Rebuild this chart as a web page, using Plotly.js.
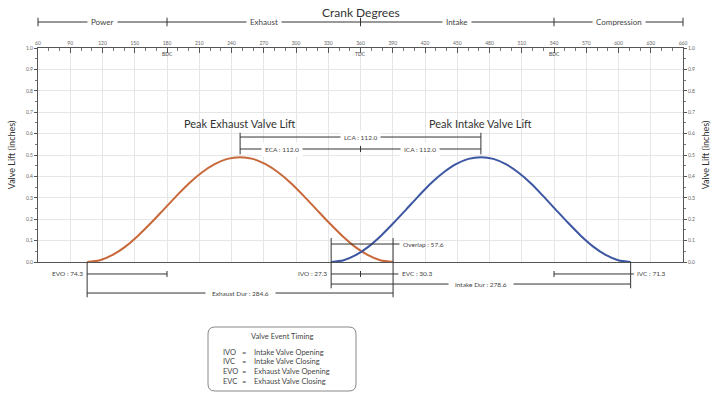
<!DOCTYPE html>
<html>
<head>
<meta charset="utf-8">
<script src="https://cdn.plot.ly/plotly-3.0.1.min.js"></script>
<style>html,body{margin:0;padding:0;background:#fff;}#chart{width:716px;height:394px;}</style>
</head>
<body>
<div id="chart"></div>
<script>
// ---- data ----
const exhaustDeg  = [105.7, 117.6, 129.4, 141.3, 153.1, 165.0, 176.9, 188.7, 200.6, 212.4, 224.3, 236.1, 248.0,
                     259.9, 271.7, 283.6, 295.4, 307.3, 319.1, 331.0, 342.9, 354.7, 366.6, 378.4, 390.3];
const exhaustLift = [0, 0.008, 0.033, 0.072, 0.123, 0.182, 0.245, 0.308, 0.368, 0.418, 0.457, 0.482, 0.49,
                     0.482, 0.457, 0.418, 0.368, 0.308, 0.245, 0.182, 0.123, 0.072, 0.033, 0.008, 0];
const intakeDeg   = [332.7, 344.3, 355.9, 367.5, 379.1, 390.7, 402.4, 414.0, 425.6, 437.2, 448.8, 460.4, 472.0,
                     483.6, 495.2, 506.8, 518.4, 530.0, 541.6, 553.3, 564.9, 576.5, 588.1, 599.7, 611.3];
const intakeLift  = [0, 0.008, 0.033, 0.072, 0.123, 0.182, 0.245, 0.308, 0.368, 0.418, 0.457, 0.482, 0.49,
                     0.482, 0.457, 0.418, 0.368, 0.308, 0.245, 0.182, 0.123, 0.072, 0.033, 0.008, 0];

const phaseNames  = ["Power", "Exhaust", "Intake", "Compression"];
const phaseBounds = [60, 180, 360, 540, 660];
const deadCenters = [180, 360, 540];
const deadLabels  = ["BDC", "TDC", "BDC"];

const EVO = 74.3, EVC = 30.3, IVO = 27.3, IVC = 71.3;
const LCA = 112.0, ECA = 112.0, ICA = 112.0;
const OVERLAP = 57.6, EXH_DUR = 284.6, INT_DUR = 278.6;

const legendAbbr = ["IVO", "IVC", "EVO", "EVC"];
const legendDesc = ["Intake Valve Opening", "Intake Valve Closing", "Exhaust Valve Opening", "Exhaust Valve Closing"];

// ---- derived event angles ----
const TDC = 360, BDC1 = 180, BDC2 = 540;
const evoDeg = BDC1 - EVO, evcDeg = TDC + EVC, ivoDeg = TDC - IVO, ivcDeg = BDC2 + IVC;
const exPeak = TDC - ECA, inPeak = TDC + ICA;

const FONT = "Lato, 'Open Sans', sans-serif";
const TXT = "#444";
const LINE = "#333";

const shapes = [];
const annotations = [];
function hline(x0, x1, y, ref) {
  shapes.push({type: "line", xref: ref[0], yref: ref[1], x0: x0, x1: x1, y0: y, y1: y, line: {color: LINE, width: 1}});
}
function vline(x, y0, y1, ref) {
  shapes.push({type: "line", xref: ref[0], yref: ref[1], x0: x, x1: x, y0: y0, y1: y1, line: {color: LINE, width: 1}});
}
function label(x, y, text, size, opts, ref) {
  annotations.push(Object.assign({xref: ref[0], yref: ref[1], x: x, y: y, text: text, showarrow: false,
    xanchor: "center", yanchor: "middle",
    font: {family: FONT, size: size, color: TXT}, bgcolor: "rgba(255,255,255,1)", borderpad: 1}, opts || {}));
}
const R2 = ["x2", "y2"];
const R1 = ["x", "y"];
const TK = 0.014; // half tick height in lift units

// phase bar on top
const yPhase = 1.1215;
hline(phaseBounds[0], phaseBounds[phaseBounds.length - 1], yPhase, R2);
phaseBounds.forEach(b => vline(b, yPhase - 0.02, yPhase + 0.02, R2));
phaseNames.forEach((n, i) => label((phaseBounds[i] + phaseBounds[i + 1]) / 2, yPhase, n, 8, {borderpad: 3}, R2));
label(TDC, 1.165, "Crank Degrees", 12, {font: {family: FONT, size: 12, color: "#333"}, bgcolor: "rgba(0,0,0,0)"}, R2);

// dead centre labels
deadCenters.forEach((d, i) => label(d, 0.972, deadLabels[i], 5, {bgcolor: "rgba(0,0,0,0)"}, R1));

// peak titles
label(exPeak, 0.648, "Peak Exhaust Valve Lift", 11, {bgcolor: "rgba(0,0,0,0)", font: {family: FONT, size: 11, color: "#333"}}, R1);
label(inPeak, 0.648, "Peak Intake Valve Lift", 11, {bgcolor: "rgba(0,0,0,0)", font: {family: FONT, size: 11, color: "#333"}}, R1);

// LCA / ECA / ICA
const yLCA = 0.584, yECA = 0.528;
hline(exPeak, inPeak, yLCA, R1);
vline(exPeak, yECA - 0.025, yLCA + 0.02, R1);
vline(inPeak, yECA - 0.025, yLCA + 0.02, R1);
label((exPeak + inPeak) / 2, yLCA, "LCA : " + LCA.toFixed(1), 6.5, {borderpad: 3}, R1);
hline(exPeak, inPeak, yECA, R1);
vline(TDC, yECA - TK, yECA + TK, R1);
label(exPeak + 39, yECA, "ECA : " + ECA.toFixed(1), 6.5, {borderpad: 3}, R1);
label(TDC + 55, yECA, "ICA : " + ICA.toFixed(1), 6.5, {borderpad: 3}, R1);

// overlap
const yOv = 0.084;
hline(ivoDeg, evcDeg, yOv, R1);
hline(evcDeg, evcDeg + 6, yOv, R1);
label(evcDeg + 7, yOv, "Overlap : " + OVERLAP.toFixed(1), 6.5, {xanchor: "left", bgcolor: "rgba(0,0,0,0)"}, R1);

// bottom dimension rows
const yR1 = -0.056, yR2 = -0.103, yR3 = -0.145;
vline(ivoDeg, 0.112, yR2 - 0.02, R2);
vline(evcDeg, 0.112, yR3 - 0.02, R2);
vline(evoDeg, 0, yR3 - 0.02, R2);
vline(ivcDeg, 0, yR2 - 0.02, R2);

hline(evoDeg, BDC1, yR1, R2);
vline(BDC1, yR1 - TK, yR1 + TK, R2);
label(evoDeg - 2, yR1, "EVO : " + EVO.toFixed(1), 6.5, {xanchor: "right", bgcolor: "rgba(0,0,0,0)"}, R2);

hline(ivoDeg, evcDeg, yR1, R2);
vline(TDC, yR1 - TK, yR1 + TK, R2);
label(ivoDeg - 2, yR1, "IVO : " + IVO.toFixed(1), 6.5, {xanchor: "right", bgcolor: "rgba(0,0,0,0)"}, R2);
hline(evcDeg, evcDeg + 5, yR1, R2);
label(evcDeg + 6, yR1, "EVC : " + EVC.toFixed(1), 6.5, {xanchor: "left", bgcolor: "rgba(0,0,0,0)"}, R2);

hline(BDC2, ivcDeg, yR1, R2);
vline(BDC2, yR1 - TK, yR1 + TK, R2);
hline(ivcDeg, ivcDeg + 3, yR1, R2);
label(ivcDeg + 4, yR1, "IVC : " + IVC.toFixed(1), 6.5, {xanchor: "left", bgcolor: "rgba(0,0,0,0)"}, R2);

hline(ivoDeg, ivcDeg, yR2, R2);
label((ivoDeg + ivcDeg) / 2, yR2, "Intake Dur : " + INT_DUR.toFixed(1), 6.5, {borderpad: 6}, R2);

hline(evoDeg, evcDeg, yR3, R2);
label((evoDeg + evcDeg) / 2, yR3, "Exhaust Dur : " + EXH_DUR.toFixed(1), 6.5, {borderpad: 6}, R2);

// legend box (paper coords, pixel based)
const W = 716, H = 394;
const px = v => v / W, py = v => 1 - v / H;
const bx0 = 208, bx1 = 356, by0 = 327, by1 = 391, r = 7;
shapes.push({type: "path", xref: "paper", yref: "paper",
  path: `M ${px(bx0 + r)} ${py(by0)} L ${px(bx1 - r)} ${py(by0)} Q ${px(bx1)} ${py(by0)} ${px(bx1)} ${py(by0 + r)} ` +
        `L ${px(bx1)} ${py(by1 - r)} Q ${px(bx1)} ${py(by1)} ${px(bx1 - r)} ${py(by1)} L ${px(bx0 + r)} ${py(by1)} ` +
        `Q ${px(bx0)} ${py(by1)} ${px(bx0)} ${py(by1 - r)} L ${px(bx0)} ${py(by0 + r)} Q ${px(bx0)} ${py(by0)} ${px(bx0 + r)} ${py(by0)} Z`,
  line: {color: "#888", width: 1}, fillcolor: "rgba(0,0,0,0)"});
const LP = ["paper", "paper"];
label(px(282), py(336), "Valve Event Timing", 7.5, {bgcolor: "rgba(0,0,0,0)"}, LP);
legendAbbr.forEach((a, i) => {
  const yy = py(352 + i * 9.8);
  label(px(221), yy, a, 7.5, {xanchor: "left", bgcolor: "rgba(0,0,0,0)"}, LP);
  label(px(240), yy, "=", 7.5, {xanchor: "left", bgcolor: "rgba(0,0,0,0)"}, LP);
  label(px(252), yy, legendDesc[i], 7.5, {xanchor: "left", bgcolor: "rgba(0,0,0,0)"}, LP);
});

const traces = [
  {x: exhaustDeg, y: exhaustLift, type: "scatter", mode: "lines", name: "Exhaust",
   line: {color: "#c8683a", width: 2, shape: "spline", smoothing: 0.8}, hoverinfo: "skip"},
  {x: intakeDeg, y: intakeLift, type: "scatter", mode: "lines", name: "Intake",
   line: {color: "#3c56a2", width: 2, shape: "spline", smoothing: 0.8}, hoverinfo: "skip"},
  {x: [360], y: [0], xaxis: "x2", yaxis: "y2", type: "scatter", mode: "markers", marker: {opacity: 0}, hoverinfo: "skip"},
  {x: [360], y: [0], yaxis: "y3", type: "scatter", mode: "markers", marker: {opacity: 0}, hoverinfo: "skip"}
];

const yTickFont = {family: FONT, size: 5, color: "#666"};
const layout = {
  width: W, height: H,
  margin: {l: 0, r: 0, t: 0, b: 0},
  paper_bgcolor: "#fff", plot_bgcolor: "rgba(0,0,0,0)",
  showlegend: false,
  font: {family: FONT, color: TXT},
  xaxis: {domain: [38 / W, 683 / W], range: [60, 660], side: "top", anchor: "y",
    tick0: 60, dtick: 30, ticks: "inside", ticklen: 5, tickcolor: "#555", tickfont: yTickFont,
    minor: {dtick: 10, ticks: "inside", ticklen: 3, tickcolor: "#777", showgrid: false},
    showgrid: true, gridcolor: "#e6e6e6", showline: true, linecolor: "#555", linewidth: 1, mirror: true,
    zeroline: false, fixedrange: true},
  yaxis: {domain: [(H - 262) / H, (H - 48) / H], range: [0, 1], anchor: "x",
    dtick: 0.1, tickformat: ".1f", ticks: "outside", ticklen: 3, tickcolor: "#555", tickfont: yTickFont,
    minor: {dtick: 0.05, ticks: "outside", ticklen: 2, tickcolor: "#777", showgrid: false},
    showgrid: true, gridcolor: "#e6e6e6", showline: true, linecolor: "#555", zeroline: false,
    title: {text: "Valve Lift (inches)", standoff: 8, font: {family: FONT, size: 9, color: "#333"}}},
  yaxis3: {overlaying: "y", side: "right", anchor: "x", range: [0, 1],
    dtick: 0.1, tickformat: ".1f", ticks: "outside", ticklen: 3, tickcolor: "#555", tickfont: yTickFont,
    minor: {dtick: 0.05, ticks: "outside", ticklen: 2, tickcolor: "#777", showgrid: false},
    showgrid: false, showline: true, linecolor: "#555", zeroline: false,
    title: {text: "Valve Lift (inches)", standoff: 8, font: {family: FONT, size: 9, color: "#333"}}},
  xaxis2: {domain: [0, 1], range: [60 - 38 / 1.075, 660 + 33 / 1.075], anchor: "y2", visible: false, fixedrange: true},
  yaxis2: {domain: [0, 1], range: [-(H - 262) / 214, 262 / 214], anchor: "x2", visible: false, fixedrange: true},
  shapes: shapes,
  annotations: annotations
};

Plotly.newPlot("chart", traces, layout, {displayModeBar: false, staticPlot: true});
</script>
</body>
</html>
